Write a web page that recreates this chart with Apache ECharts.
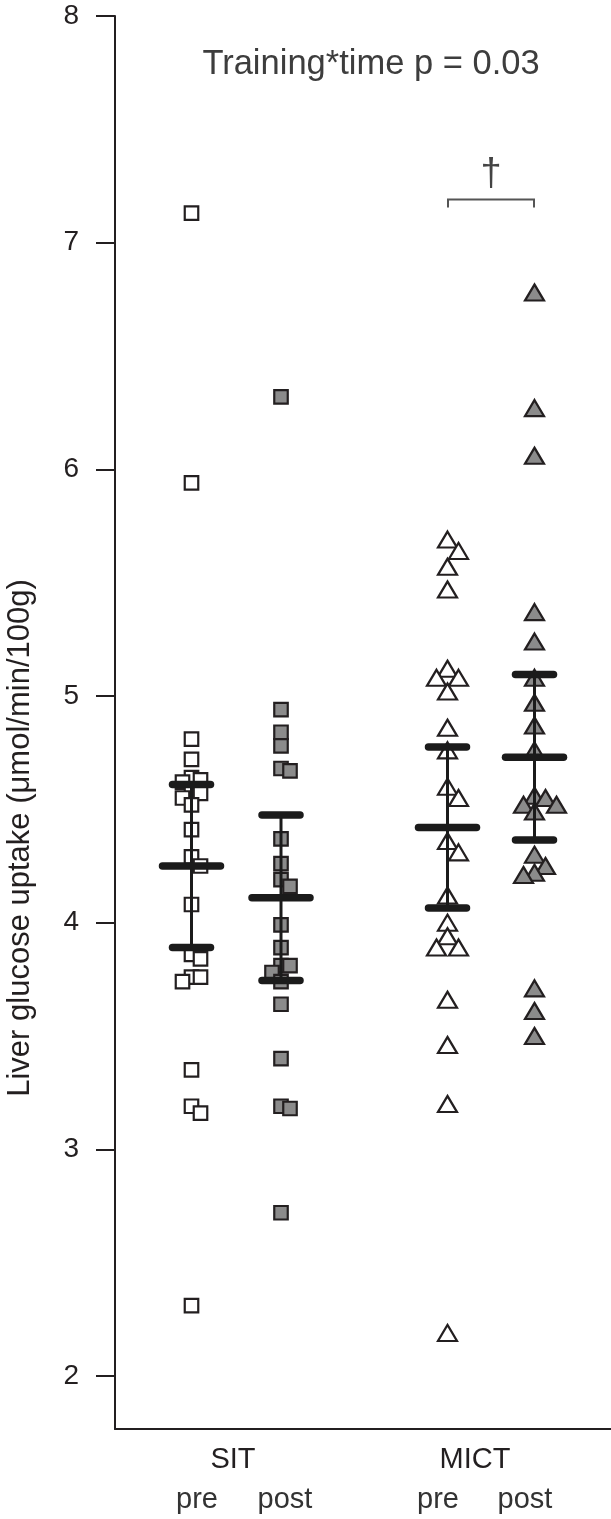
<!DOCTYPE html>
<html>
<head>
<meta charset="utf-8">
<script src="https://cdn.jsdelivr.net/npm/echarts@6/dist/echarts.min.js"></script>
<style>
  html, body { margin: 0; padding: 0; background: #fff; }
  #chart { width: 611px; height: 1519px; }
</style>
</head>
<body>
<div id="chart"></div>
<script>
// ---------------- DATA ----------------
const groups = ['SIT', 'MICT'];
const times = ['pre', 'post'];
const yTicks = [2, 3, 4, 5, 6, 7, 8];
const yMin = 1.766, yMax = 8;

const sitPre = [7.13, 5.94, 4.81, 4.72, 4.64, 4.63, 4.62, 4.57, 4.57, 4.55, 4.52, 4.41, 4.29, 4.25, 4.08,
                3.86, 3.84, 3.76, 3.76, 3.74, 3.35, 3.19, 3.16, 2.31];
const sitPost = [6.32, 4.94, 4.84, 4.78, 4.68, 4.67, 4.37, 4.26, 4.19, 4.16, 3.99, 3.89, 3.81, 3.81,
                 3.78, 3.74, 3.64, 3.40, 3.19, 3.18, 2.72];
const mictPre = [5.69, 5.64, 5.57, 5.47, 5.12, 5.08, 5.08, 5.02, 4.86, 4.76, 4.60, 4.55, 4.36, 4.31,
                 4.12, 4.00, 3.94, 3.89, 3.89, 3.66, 3.46, 3.20, 2.19];
const mictPost = [6.78, 6.27, 6.06, 5.37, 5.24, 5.08, 4.97, 4.87, 4.76, 4.56, 4.55, 4.52, 4.52, 4.49,
                  4.30, 4.25, 4.22, 4.21, 3.71, 3.61, 3.50];

const means = [4.25, 4.11, 4.42, 4.73];
const sds = [0.36, 0.365, 0.355, 0.365];

const titleText = 'Training*time p = 0.03';
const yName = 'Liver glucose uptake (\u03bcmol/min/100g)';
const sigMark = '\u2020';
const sigValue = 7.19;

// ---------------- LAYOUT ----------------
const gridLeft = 115, gridRight = 0, gridTop = 16, gridBottom = 90;
const columnX = [76.5, 166, 332.5, 419.5];     // x-axis units (= px inside grid)
const timeLabelX = [82, 170, 323, 410];
const groupLabelX = [118, 360];
const ink = '#231f20';
const gray = '#8b8b8b';
const fontFam = '"Liberation Sans", Arial, sans-serif';

const chart = echarts.init(document.getElementById('chart'), null, { renderer: 'canvas' });
const plotW = chart.getWidth() - gridLeft - gridRight;
const pxPerUnit = (chart.getHeight() - gridTop - gridBottom) / (yMax - yMin);

// simple beeswarm: horizontal offsets so overlapping points spread sideways
function swarm(values, minDy, minDx, step) {
  const order = values.map((v, i) => i).sort((a, b) => values[b] - values[a]);
  const placed = [];
  const off = new Array(values.length).fill(0);
  for (const i of order) {
    const y = values[i] * pxPerUnit;
    let chosen = 0;
    for (let k = 0; k < 9; k++) {
      const c = k === 0 ? 0 : (k % 2 ? 1 : -1) * Math.ceil(k / 2) * step;
      if (!placed.some(p => Math.abs(p.y - y) < minDy && Math.abs(p.x - c) < minDx)) { chosen = c; break; }
    }
    off[i] = chosen;
    placed.push({ x: chosen, y });
  }
  return off;
}

const sets = [sitPre, sitPost, mictPre, mictPost];
const isTri = [false, false, true, true];
const filled = [false, true, false, true];

const scatterSeries = sets.map((vals, s) => {
  const off = isTri[s] ? swarm(vals, 12, 11, 11) : swarm(vals, 11, 9, 9);
  return {
    type: 'scatter',
    name: groups[Math.floor(s / 2)] + ' ' + times[s % 2],
    data: vals.map((v, i) => [columnX[s] + off[i], v]),
    symbol: isTri[s] ? 'triangle' : 'rect',
    symbolSize: isTri[s] ? [19, 16] : 13.5,
    itemStyle: { color: filled[s] ? gray : '#ffffff', borderColor: ink, borderWidth: 2.2, opacity: 1 },
    z: 2,
    silent: true,
    animation: false
  };
});

const barSeries = {
  type: 'custom',
  data: means.map((m, i) => [columnX[i], m, sds[i]]),
  z: 5,
  silent: true,
  animation: false,
  renderItem: function (params, api) {
    const x = api.value(0), m = api.value(1), s = api.value(2);
    const c = api.coord([x, m]);
    const t = api.coord([x, m + s]);
    const b = api.coord([x, m - s]);
    const st = { stroke: '#1b1b1b', lineWidth: 7.5, lineCap: 'round' };
    return {
      type: 'group',
      children: [
        { type: 'line', shape: { x1: c[0], y1: t[1], x2: c[0], y2: b[1] }, style: { stroke: '#1b1b1b', lineWidth: 3 } },
        { type: 'line', shape: { x1: c[0] - 19, y1: t[1], x2: c[0] + 19, y2: t[1] }, style: st },
        { type: 'line', shape: { x1: c[0] - 19, y1: b[1], x2: c[0] + 19, y2: b[1] }, style: st },
        { type: 'line', shape: { x1: c[0] - 29, y1: c[1], x2: c[0] + 29, y2: c[1] }, style: st }
      ]
    };
  }
};

const sigSeries = {
  type: 'custom',
  data: [[columnX[2], columnX[3], sigValue]],
  z: 5,
  silent: true,
  animation: false,
  renderItem: function (params, api) {
    const p1 = api.coord([api.value(0), api.value(2)]);
    const p2 = api.coord([api.value(1), api.value(2)]);
    const x1 = p1[0] + 0.5, x2 = p2[0] - 0.5, y = p1[1];
    return {
      type: 'group',
      children: [
        { type: 'polyline', shape: { points: [[x1, y + 8], [x1, y], [x2, y], [x2, y + 8]] },
          style: { stroke: '#555', lineWidth: 2, fill: null } },
        { type: 'text', style: { x: (x1 + x2) / 2, y: y - 6, text: sigMark, fill: '#444',
          font: '38px ' + fontFam, align: 'center', verticalAlign: 'bottom' } }
      ]
    };
  }
};

const option = {
  backgroundColor: '#ffffff',
  animation: false,
  grid: { left: gridLeft, right: gridRight, top: gridTop, bottom: gridBottom, containLabel: false },
  xAxis: [
    {
      type: 'value', min: 0, max: plotW, position: 'bottom',
      axisLine: { show: true, onZero: false, lineStyle: { color: ink, width: 2 } },
      axisTick: { show: false },
      splitLine: { show: false },
      axisLabel: {
        show: true, customValues: timeLabelX, margin: 56,
        formatter: function (v) {
          const i = timeLabelX.indexOf(v);
          return i < 0 ? '' : times[i % times.length];
        },
        color: '#333', fontSize: 29, fontFamily: fontFam
      }
    },
    {
      type: 'value', min: 0, max: plotW, position: 'bottom', gridIndex: 0,
      axisLine: { show: false }, axisTick: { show: false }, splitLine: { show: false },
      axisLabel: {
        show: true, customValues: groupLabelX, margin: 16,
        formatter: function (v) {
          const i = groupLabelX.indexOf(v);
          return i < 0 ? '' : groups[i];
        },
        color: ink, fontSize: 29, fontFamily: fontFam
      }
    }
  ],
  yAxis: {
    type: 'value', min: yMin, max: yMax,
    axisLine: { show: true, onZero: false, lineStyle: { color: ink, width: 2 } },
    axisTick: { show: true, customValues: yTicks, length: 19, lineStyle: { color: ink, width: 2 } },
    axisLabel: { show: true, customValues: yTicks, margin: 36, color: ink, fontSize: 28, fontFamily: fontFam },
    splitLine: { show: false }
  },
  graphic: [
    { type: 'text', x: 371, y: 64, silent: true,
      style: { text: titleText, fill: '#3d3d3d', font: '34.5px ' + fontFam,
        align: 'center', verticalAlign: 'middle' } },
    { type: 'text', x: 20, y: 838, rotation: Math.PI / 2, silent: true,
      style: { text: yName, fill: ink, font: '31px ' + fontFam,
        align: 'center', verticalAlign: 'middle' } }
  ],
  series: scatterSeries.concat([barSeries, sigSeries])
};

chart.setOption(option);
</script>
</body>
</html>
